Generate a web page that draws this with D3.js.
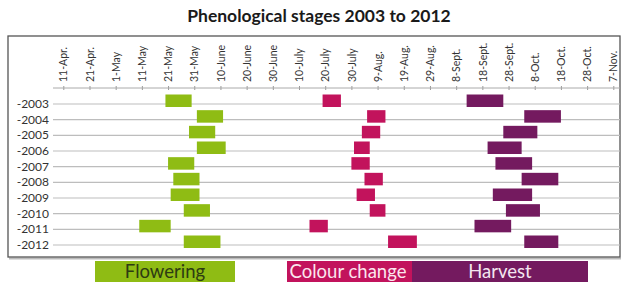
<!DOCTYPE html>
<html>
<head>
<meta charset="utf-8">
<script src="https://cdn.jsdelivr.net/npm/d3@7"></script>
<style>
  body { margin: 0; background: #fff; }
  svg { display: block; font-family: Lato, "Open Sans", sans-serif; }
</style>
</head>
<body>
<script>
// data (dates as month-day, any year)
var years = ["2003", "2004", "2005", "2006", "2007", "2008", "2009", "2010", "2011", "2012"];
var flowering = [["05-20", "05-30"], ["06-01", "06-11"], ["05-29", "06-08"], ["06-01", "06-12"], ["05-21", "05-31"],
                 ["05-23", "06-02"], ["05-22", "06-02"], ["05-27", "06-06"], ["05-10", "05-22"], ["05-27", "06-10"]];
var colourChange = [["07-19", "07-26"], ["08-05", "08-12"], ["08-03", "08-10"], ["07-31", "08-06"], ["07-30", "08-06"],
                    ["08-04", "08-11"], ["08-01", "08-08"], ["08-06", "08-12"], ["07-14", "07-21"], ["08-13", "08-24"]];
var harvest = [["09-12", "09-26"], ["10-04", "10-18"], ["09-26", "10-09"], ["09-20", "10-03"], ["09-23", "10-07"],
               ["10-03", "10-17"], ["09-22", "10-07"], ["09-27", "10-10"], ["09-15", "09-29"], ["10-04", "10-17"]];
var tickDates = ["04-11", "04-21", "05-01", "05-11", "05-21", "05-31", "06-10", "06-20", "06-30", "07-10", "07-20",
                 "07-30", "08-09", "08-19", "08-29", "09-08", "09-18", "09-28", "10-08", "10-18", "10-28", "11-07"];
var tickLabels = ["11-Apr.", "21-Apr.", "1-May", "11-May", "21-May", "31-May", "10-June", "20-June", "30-June", "10-July", "20-July",
                  "30-July", "9-Aug.", "19-Aug.", "29-Aug.", "8-Sept.", "18-Sept.", "28-Sept.", "8-Oct.", "18-Oct.", "28-Oct.", "7-Nov."];
var stages = ["Flowering", "Colour change", "Harvest"];
var colors = ["#8fbc14", "#c2135c", "#741a5f"];

var W = 622, H = 282;
var parseDay = d3.timeParse("%Y-%m-%d");
var day = function (s) { return parseDay("2003-" + s); };

var xScale = d3.scaleTime()
    .domain([day(tickDates[0]), day(tickDates[tickDates.length - 1])])
    .range([63.3, 613.3]);
var yScale = d3.scalePoint()
    .domain(years)
    .range([104, 245]);

var svg = d3.select("body").append("svg")
    .attr("width", W)
    .attr("height", H);

// title
svg.append("text")
    .attr("x", 319)
    .attr("y", 22)
    .style("text-anchor", "middle")
    .style("font-weight", "bold")
    .style("font-size", "17.5px")
    .style("fill", "#1a1a1a")
    .text("Phenological stages 2003 to 2012");

// frame with a little shadow
svg.append("line")
    .attr("x1", 9).attr("x2", 621)
    .attr("y1", 258.5).attr("y2", 258.5)
    .style("stroke", "#bbb").style("stroke-width", 2);
svg.append("rect")
    .attr("x", 8).attr("y", 36)
    .attr("width", 612).attr("height", 221)
    .style("fill", "#fff")
    .style("stroke", "#555")
    .style("stroke-width", 1.3);

// gridlines, one per year
svg.append("g")
    .attr("class", "grid")
    .selectAll("line")
    .data(years)
    .enter().append("line")
    .attr("x1", 53).attr("x2", 620)
    .attr("y1", function (d) { return yScale(d); })
    .attr("y2", function (d) { return yScale(d); })
    .style("stroke", "#bdbdbd")
    .style("stroke-width", 1.2);

// year labels
svg.append("g")
    .selectAll("text")
    .data(years)
    .enter().append("text")
    .attr("x", 49)
    .attr("y", function (d) { return yScale(d) + 4; })
    .style("text-anchor", "end")
    .style("font-size", "12px")
    .style("fill", "#333")
    .text(function (d) { return "-" + d; });

// date axis on top
var axis = svg.append("g")
    .attr("transform", "translate(0,88)")
    .call(d3.axisTop(xScale)
        .tickValues(tickDates.map(day))
        .tickSizeInner(2)
        .tickSizeOuter(0)
        .tickFormat(function (d, i) { return tickLabels[i]; }));
axis.select(".domain").remove();
axis.append("line")
    .attr("x1", 53).attr("x2", 620)
    .style("stroke", "#aaa");
axis.selectAll(".tick line")
    .attr("y1", 2).attr("y2", -2)
    .style("stroke", "#999");
axis.selectAll(".tick text")
    .attr("transform", "rotate(-90)")
    .attr("x", 6).attr("y", 0).attr("dy", "0.35em")
    .style("text-anchor", "start")
    .style("font-family", "Lato, sans-serif")
    .style("font-size", "10.5px")
    .style("fill", "#333");

// bars
[flowering, colourChange, harvest].forEach(function (series, s) {
    svg.append("g")
        .attr("class", "stage")
        .selectAll("rect")
        .data(series)
        .enter().append("rect")
        .attr("x", function (d) { return xScale(day(d[0])); })
        .attr("width", function (d) { return xScale(day(d[1])) - xScale(day(d[0])); })
        .attr("y", function (d, i) { return yScale(years[i]) - 9.5; })
        .attr("height", 12.5)
        .style("fill", colors[s]);
});

// legend band at the bottom
var legendBoxes = [[95, 140], [287, 125], [412, 176]];
var legendText = ["#2d3b12", "#fbe6ee", "#f3e6f0"];
var legend = svg.append("g").attr("class", "legend");
legend.selectAll("rect")
    .data(stages)
    .enter().append("rect")
    .attr("x", function (d, i) { return legendBoxes[i][0]; })
    .attr("width", function (d, i) { return legendBoxes[i][1]; })
    .attr("y", 261).attr("height", 21)
    .style("fill", function (d, i) { return colors[i]; });
legend.selectAll("text")
    .data(stages)
    .enter().append("text")
    .attr("x", function (d, i) { return [165, 348, 500][i]; })
    .attr("y", 277.5)
    .style("text-anchor", "middle")
    .style("font-size", "18.5px")
    .style("fill", function (d, i) { return legendText[i]; })
    .text(function (d) { return d; });
</script>
</body>
</html>
